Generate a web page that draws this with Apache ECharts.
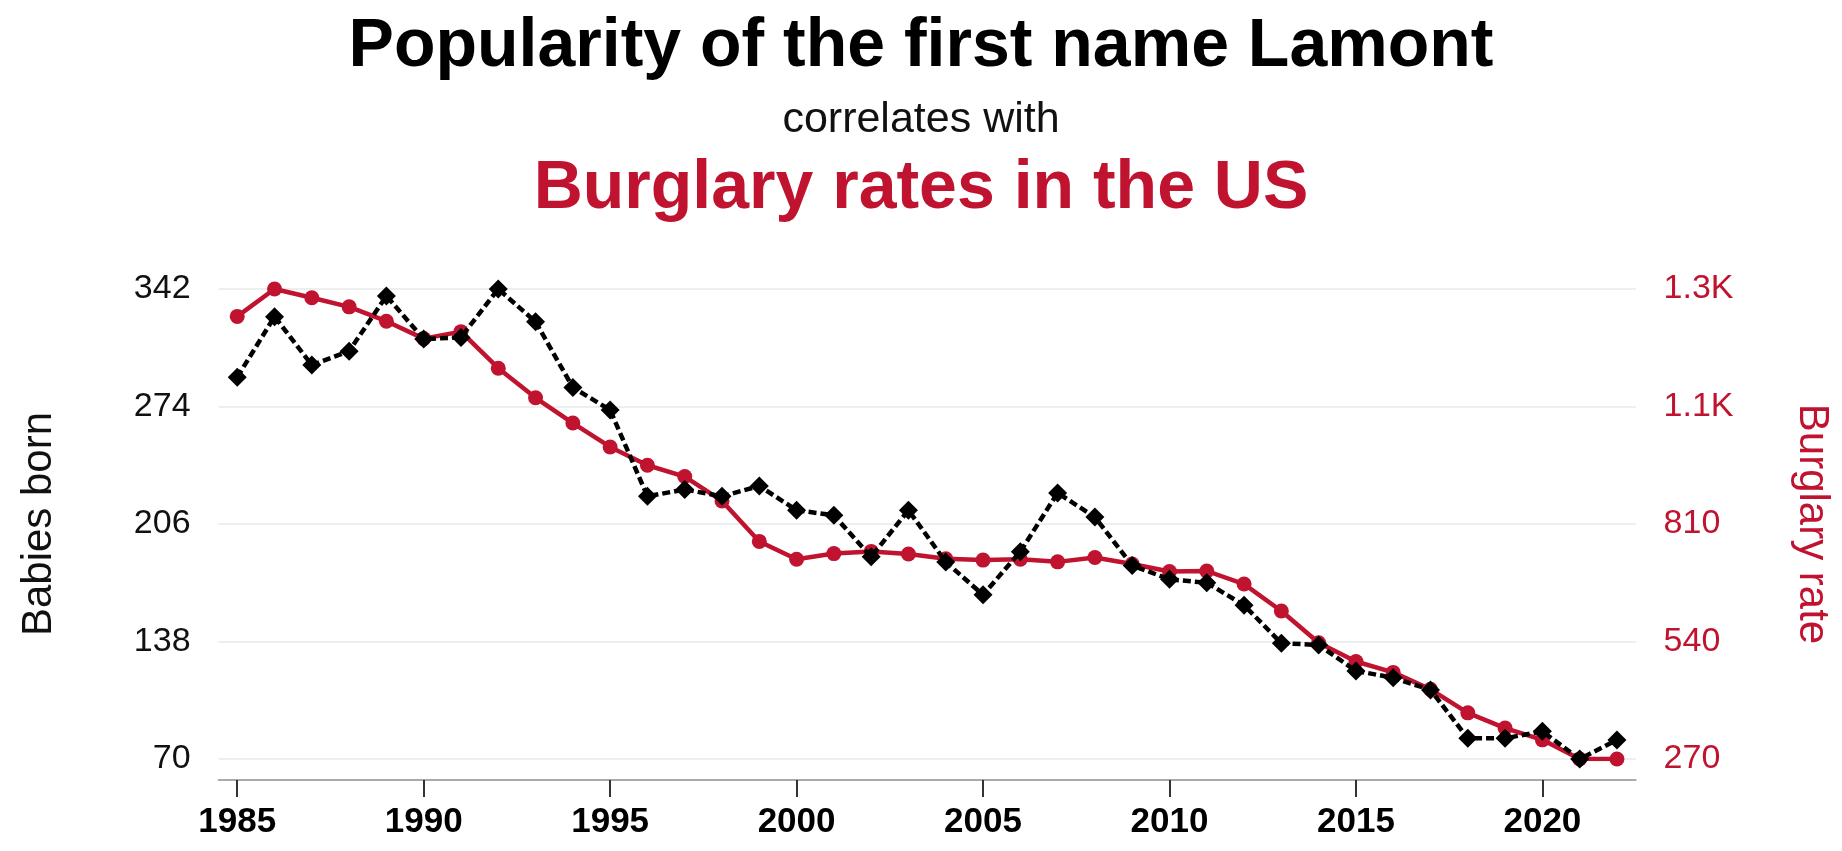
<!DOCTYPE html>
<html>
<head>
<meta charset="utf-8">
<title>Popularity of the first name Lamont vs Burglary rates in the US</title>
<script src="https://cdn.jsdelivr.net/npm/echarts@6/dist/echarts.min.js"></script>
<style>
  html, body { margin: 0; padding: 0; background: #ffffff; }
  #chart { width: 1842px; height: 851px; }
</style>
</head>
<body>
<div id="chart"></div>
<script>
// Years shown on the category axis
const years = [
  1985, 1986, 1987, 1988, 1989, 1990, 1991, 1992, 1993, 1994,
  1995, 1996, 1997, 1998, 1999, 2000, 2001, 2002, 2003, 2004,
  2005, 2006, 2007, 2008, 2009, 2010, 2011, 2012, 2013, 2014,
  2015, 2016, 2017, 2018, 2019, 2020, 2021, 2022
];

// Babies named Lamont, per year (left axis)
const babiesBorn = [
  291, 326, 298, 306, 338, 313, 314, 342, 323, 285,
  272, 222, 226, 222, 228, 214, 211, 187, 214, 184,
  165, 190, 224, 210, 182, 174, 172, 159, 137, 136,
  121, 117, 110, 82, 82, 86, 70, 81
];

// Burglary rate in the US, per year (right axis)
const burglaryRate = [
  1287, 1350, 1330, 1309, 1276, 1236, 1252, 1168, 1100, 1042,
  987, 945, 919, 863, 770, 729, 742, 747, 741, 730,
  727, 729, 723, 733, 718, 701, 702, 672, 610, 537,
  494, 469, 430, 376, 341, 314, 270, 270
];

// Tick labels of the right axis, bottom to top
const rightTickLabels = ['270', '540', '810', '1.1K', '1.3K'];

const RED = '#c0132f';
const FONT = 'Liberation Sans, Arial, Helvetica, sans-serif';

const chart = echarts.init(document.getElementById('chart'), null, { renderer: 'canvas' });

const everyFifth = (idx, value) => Number(value) % 5 === 0;

chart.setOption({
  animation: false,
  backgroundColor: '#ffffff',
  textStyle: { fontFamily: FONT },
  title: [
    {
      text: 'Popularity of the first name Lamont',
      left: 'center',
      top: 8,
      textStyle: { fontFamily: FONT, fontSize: 68, fontWeight: 'bold', color: '#000000' }
    },
    {
      text: 'correlates with',
      left: 'center',
      top: 94,
      textStyle: { fontFamily: FONT, fontSize: 43, fontWeight: 'normal', color: '#111111' }
    },
    {
      text: 'Burglary rates in the US',
      left: 'center',
      top: 150,
      textStyle: { fontFamily: FONT, fontSize: 68, fontWeight: 'bold', color: RED }
    }
  ],
  grid: {
    left: 218.6,
    right: 206.4,
    top: 289,
    bottom: 92,
    containLabel: false
  },
  xAxis: {
    type: 'category',
    data: years.map(String),
    boundaryGap: true,
    offset: 21,
    axisLine: { show: true, onZero: false, lineStyle: { color: '#aaaaaa', width: 2 } },
    axisTick: {
      show: true,
      alignWithLabel: true,
      interval: everyFifth,
      length: 17,
      lineStyle: { color: '#333333', width: 2 }
    },
    axisLabel: {
      interval: everyFifth,
      margin: 25,
      fontFamily: FONT,
      fontSize: 35,
      fontWeight: 'bold',
      color: '#000000'
    },
    splitLine: { show: false }
  },
  yAxis: [
    {
      type: 'value',
      position: 'left',
      min: 70,
      max: 342,
      interval: 68,
      name: 'Babies born',
      nameLocation: 'middle',
      nameGap: 158,
      nameTextStyle: { fontFamily: FONT, fontSize: 42, color: '#111111' },
      axisLine: { show: false },
      axisTick: { show: false },
      axisLabel: { margin: 28, fontFamily: FONT, fontSize: 34, color: '#111111' },
      splitLine: { show: true, lineStyle: { color: '#eeeeee', width: 2 } }
    },
    {
      type: 'value',
      position: 'right',
      min: 270,
      max: 1350,
      interval: 270,
      name: 'Burglary rate',
      nameLocation: 'middle',
      nameRotate: -90,
      nameGap: 155,
      nameTextStyle: { fontFamily: FONT, fontSize: 42, color: RED },
      axisLine: { show: false },
      axisTick: { show: false },
      axisLabel: {
        margin: 28,
        fontFamily: FONT,
        fontSize: 34,
        color: RED,
        formatter: (value) => {
          const i = Math.round((value - 270) / 270);
          return rightTickLabels[i] !== undefined ? rightTickLabels[i] : String(value);
        }
      },
      splitLine: { show: false }
    }
  ],
  series: [
    {
      name: 'Burglary rate',
      type: 'line',
      yAxisIndex: 1,
      data: burglaryRate,
      symbol: 'circle',
      symbolSize: 15,
      showAllSymbol: true,
      lineStyle: { color: RED, width: 4.5 },
      itemStyle: { color: RED },
      z: 2
    },
    {
      name: 'Babies born',
      type: 'line',
      yAxisIndex: 0,
      data: babiesBorn,
      symbol: 'diamond',
      symbolSize: 19,
      showAllSymbol: true,
      lineStyle: { color: '#000000', width: 4.5, type: [8, 4] },
      itemStyle: { color: '#000000' },
      z: 3
    }
  ]
});
</script>
</body>
</html>
